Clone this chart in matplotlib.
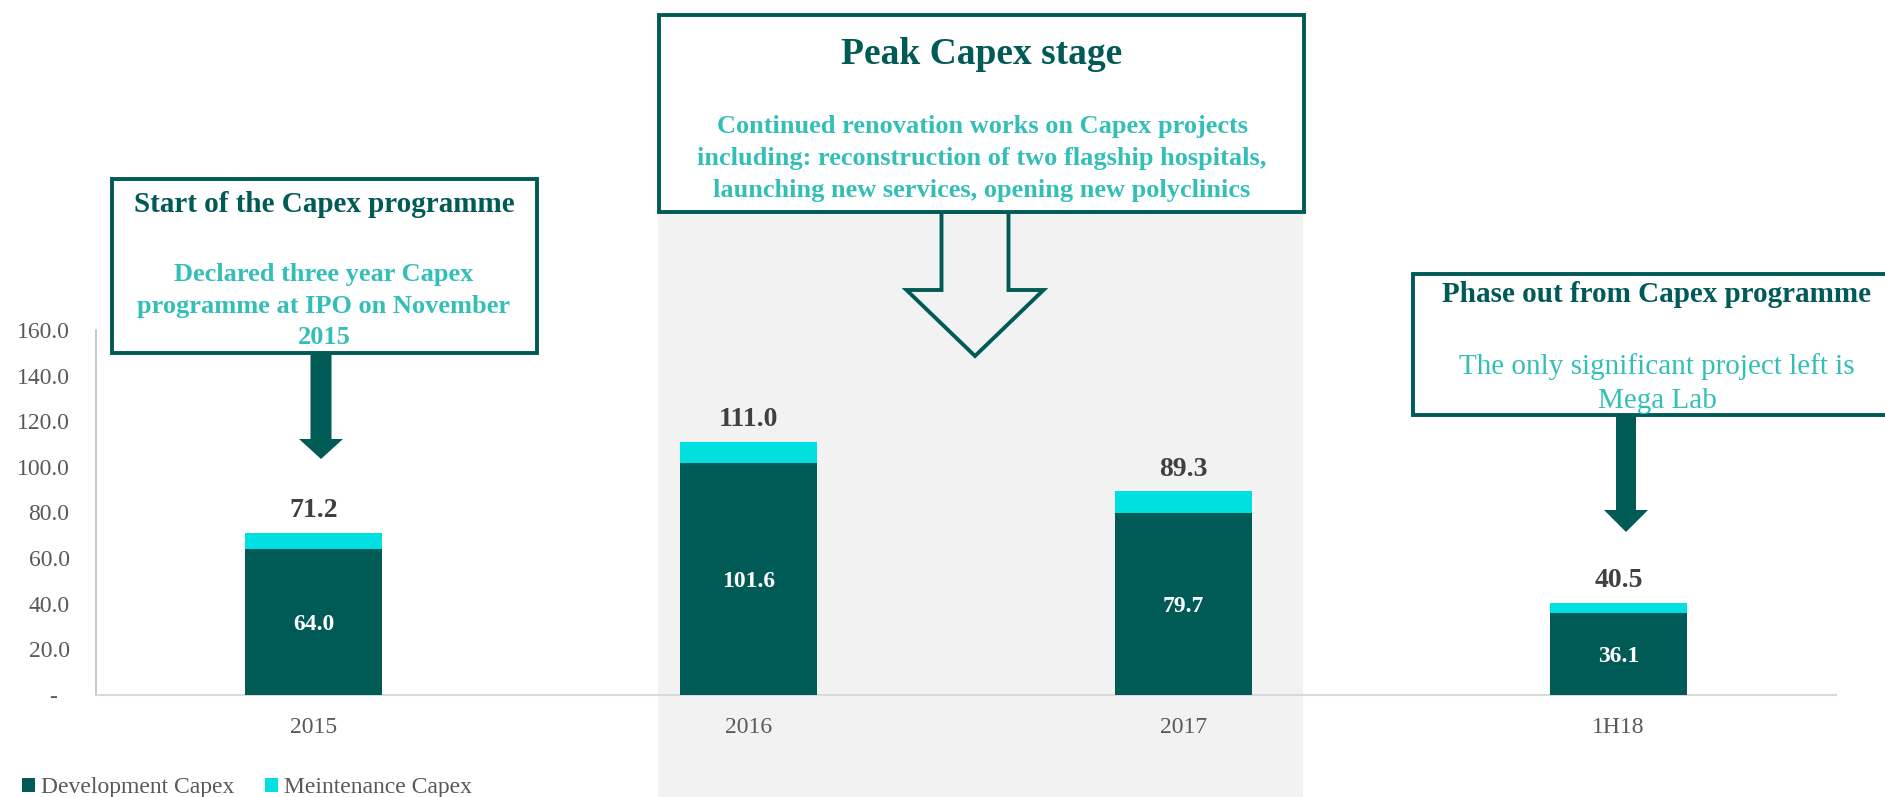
import matplotlib
matplotlib.use("Agg")
import matplotlib.pyplot as plt
from matplotlib.patches import Rectangle, Polygon, Patch
import numpy as np

# ---------------- data ----------------
categories = ["2015", "2016", "2017", "1H18"]
development = [64.0, 101.6, 79.7, 36.1]
maintenance = [7.2, 9.4, 9.6, 4.4]
totals = [71.2, 111.0, 89.3, 40.5]
yticks = [0, 20, 40, 60, 80, 100, 120, 140, 160]
series_names = ["Development Capex", "Meintenance Capex"]

# ---------------- style ----------------
W, H = 1885, 797
DARK = "#005A56"
CYAN = "#00E0E0"
SUBTXT = "#33BFB8"
GRAYTXT = "#595959"
LABEL = "#404040"
FONT = "Liberation Serif"
plt.rcParams["font.family"] = [FONT, "DejaVu Serif"]

fig = plt.figure(figsize=(W / 100, H / 100), dpi=100)
fig.patch.set_facecolor("white")


def fx(x):
    return x / W


def fy(y):
    return 1 - y / H


def P(x, y):
    return (fx(x), fy(y))


# axes placement
ax_l, ax_r, ax_t, ax_b = 96, 1836, 330, 695
ax = fig.add_axes([fx(ax_l), fy(ax_b), (ax_r - ax_l) / W, (ax_b - ax_t) / H])
ax.patch.set_alpha(0)

# grey highlight band (behind everything)
band = Rectangle(P(658, 797), (1303 - 658) / W, (797 - 15) / H,
                 transform=fig.transFigure, facecolor="#F2F2F2",
                 edgecolor="none", zorder=-5)
fig.add_artist(band)

x = np.arange(len(categories))
bw = 0.313
ax.bar(x, development, bw, color=DARK, zorder=3, label=series_names[0])
ax.bar(x, maintenance, bw, bottom=development, color=CYAN, zorder=3,
       label=series_names[1])

for xi, d, t in zip(x, development, totals):
    ax.annotate(f"{d:.1f}", (xi, d / 2), xytext=(0, -2), textcoords="offset points",
                ha="center", va="center", color="white",
                fontsize=17, fontweight="bold", zorder=4)
    ax.annotate(f"{t:.1f}", (xi, t), xytext=(0, 16), textcoords="offset points",
                ha="center", va="center", color=LABEL, fontsize=20,
                fontweight="bold", zorder=4)

ax.set_xlim(-0.5, len(categories) - 0.5)
ax.set_ylim(0, 160)
ax.set_xticks(x)
ax.set_xticklabels(categories, fontsize=17, color=GRAYTXT)
ax.set_yticks(yticks)
ax.set_yticklabels(["-  " if v == 0 else f"{v:.1f}" for v in yticks],
                   fontsize=17, color=GRAYTXT)
ax.tick_params(axis="both", length=0)
ax.tick_params(axis="y", pad=19)
ax.tick_params(axis="x", pad=16)
for s in ["top", "right"]:
    ax.spines[s].set_visible(False)
ax.spines["left"].set_color("#BFBFBF")
ax.spines["left"].set_linewidth(1.2)
ax.spines["bottom"].set_color("#D9D9D9")
ax.spines["bottom"].set_linewidth(1.5)

# legend
handles = [Patch(facecolor=DARK, edgecolor="none"), Patch(facecolor=CYAN, edgecolor="none")]
fig.legend(handles, series_names, loc="center left", bbox_to_anchor=P(22, 788),
           ncol=2, frameon=False, fontsize=17, handlelength=0.55, handleheight=0.55,
           handletextpad=0.25, columnspacing=1.3, labelcolor=GRAYTXT,
           borderpad=0, borderaxespad=0)


# ---------------- annotation boxes ----------------
def box(x0, y0, x1, y1):
    r = Rectangle(P(x0, y1), (x1 - x0) / W, (y1 - y0) / H,
                  transform=fig.transFigure, facecolor="white",
                  edgecolor=DARK, linewidth=2.8, zorder=5, clip_on=False)
    fig.add_artist(r)


def ftext(xc, yc, s, size, color, bold=True):
    fig.text(fx(xc), fy(yc), s, ha="center", va="center", fontsize=size,
             color=color, fontweight="bold" if bold else "normal", zorder=6)


def arrow_pts(xc, y_top, y_head, y_tip, shaft_w, head_w):
    pts = [(xc - shaft_w / 2, y_top), (xc + shaft_w / 2, y_top),
           (xc + shaft_w / 2, y_head), (xc + head_w / 2, y_head),
           (xc, y_tip), (xc - head_w / 2, y_head), (xc - shaft_w / 2, y_head)]
    return [P(a, b) for a, b in pts]


def solid_arrow(xc, y_top, y_head, y_tip, shaft_w, head_w):
    poly = Polygon(arrow_pts(xc, y_top, y_head, y_tip, shaft_w, head_w),
                   closed=True, transform=fig.transFigure, facecolor=DARK,
                   edgecolor="none", zorder=5)
    fig.add_artist(poly)


def hollow_arrow(xc, y_top, y_head, y_tip, shaft_w, head_w):
    poly = Polygon(arrow_pts(xc, y_top, y_head, y_tip, shaft_w, head_w),
                   closed=True, transform=fig.transFigure, facecolor="none",
                   edgecolor=DARK, linewidth=2.8, joinstyle="miter", zorder=4)
    fig.add_artist(poly)


# Box 1 - start
box(112, 179, 537, 353)
ftext(324, 204, "Start of the Capex programme", 21, DARK)
ftext(324, 274, "Declared three year Capex", 19, SUBTXT)
ftext(324, 306, "programme at IPO on November", 19, SUBTXT)
ftext(324, 337, "2015", 19, SUBTXT)
solid_arrow(321, 353, 439, 459, 21, 44)

# Box 2 - peak
hollow_arrow(975, 212, 290, 356, 67, 137)
box(659, 15, 1304, 212)
ftext(982, 54, "Peak Capex stage", 27, DARK)
ftext(982, 126, "Continued renovation works on Capex projects", 19, SUBTXT)
ftext(982, 158, "including: reconstruction of two flagship hospitals,", 19, SUBTXT)
ftext(982, 190, "launching new services, opening new polyclinics", 19, SUBTXT)

# Box 3 - phase out
box(1413, 274, 1900, 415)
ftext(1656, 294, "Phase out from Capex programme", 21, DARK)
ftext(1657, 367, "The only significant project left is", 21, SUBTXT, bold=False)
ftext(1657, 401, "Mega Lab", 21, SUBTXT, bold=False)
solid_arrow(1626, 415, 510, 532, 20, 44)

fig.savefig("out.png", dpi=100, facecolor="white")
